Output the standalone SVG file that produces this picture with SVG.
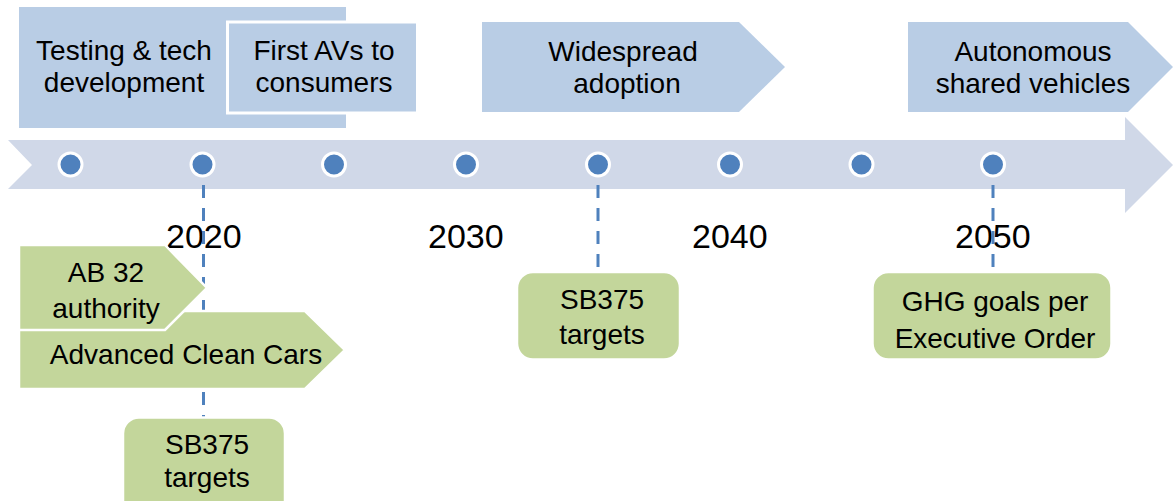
<svg xmlns="http://www.w3.org/2000/svg" width="1175" height="501" viewBox="0 0 1175 501">
<style>
.blue{fill:#b9cde5}
.green{fill:#c3d69b;stroke:#ffffff;stroke-width:2.5}
.lbl{font-family:"Liberation Sans",Arial,sans-serif;font-size:28px;fill:#000;text-anchor:middle}
.yr{font-family:"Liberation Sans",Arial,sans-serif;font-size:34px;fill:#000}
.dot{fill:#4f81bd;stroke:#ffffff;stroke-width:3}
.conn{stroke:#4f81bd;stroke-width:3;stroke-dasharray:13 10;fill:none}
</style>
<rect width="1175" height="501" fill="#ffffff"/>
<g id="testing">
<rect class="blue" x="19" y="7" width="327" height="121"/>
<text class="lbl" x="124" y="60">Testing &amp; tech</text>
<text class="lbl" x="124" y="92">development</text>
</g>
<g id="first-avs">
<rect class="blue" x="227.5" y="22" width="190" height="91" stroke="#ffffff" stroke-width="3"/>
<text class="lbl" x="324" y="60">First AVs to</text>
<text class="lbl" x="324" y="92">consumers</text>
</g>
<g id="widespread">
<polygon class="blue" points="482,22 739,22 785,67 739,112 482,112"/>
<text class="lbl" x="623" y="61">Widespread</text>
<text class="lbl" x="627" y="93">adoption</text>
</g>
<g id="autonomous">
<polygon class="blue" points="908,22 1128,22 1173,67 1128,112 908,112"/>
<text class="lbl" x="1033" y="61">Autonomous</text>
<text class="lbl" x="1033" y="93">shared vehicles</text>
</g>
<g id="timeline">
<polygon fill="#d0d8e8" points="8,140 1125,140 1125,117 1173,165 1125,213 1125,189 8,189 32,165"/>
<circle class="dot" cx="70.5" cy="164.5" r="11.5"/>
<circle class="dot" cx="202.5" cy="164.5" r="11.5"/>
<circle class="dot" cx="334" cy="164.5" r="11.5"/>
<circle class="dot" cx="466" cy="164.5" r="11.5"/>
<circle class="dot" cx="598" cy="164.5" r="11.5"/>
<circle class="dot" cx="730" cy="164.5" r="11.5"/>
<circle class="dot" cx="861.5" cy="164.5" r="11.5"/>
<circle class="dot" cx="993" cy="164.5" r="11.5"/>
</g>
<g id="years">
<text class="yr" x="166" y="248">2020</text>
<text class="yr" x="428" y="248">2030</text>
<text class="yr" x="692" y="248">2040</text>
<text class="yr" x="955" y="248">2050</text>
</g>
<g id="connectors">
<line class="conn" x1="203.5" y1="185" x2="203.5" y2="418"/>
<line class="conn" x1="598" y1="185" x2="598" y2="273"/>
<line class="conn" x1="993" y1="185" x2="993" y2="273"/>
</g>
<g id="advanced-clean-cars">
<polygon class="green" points="19,311 305,311 345,350 305,389 19,389"/>
<text class="lbl" x="186" y="364">Advanced Clean Cars</text>
</g>
<g id="ab32">
<polygon class="green" points="19,245 165,245 207,288 165,330 19,330"/>
<text class="lbl" x="106" y="282">AB 32</text>
<text class="lbl" x="106" y="318">authority</text>
</g>
<g id="sb375-2020">
<rect class="green" x="123" y="417.5" width="162" height="100" rx="16"/>
<text class="lbl" x="207" y="454">SB375</text>
<text class="lbl" x="207" y="487">targets</text>
</g>
<g id="sb375-2030">
<rect class="green" x="517" y="272" width="163" height="87.5" rx="16"/>
<text class="lbl" x="602" y="309">SB375</text>
<text class="lbl" x="602" y="344">targets</text>
</g>
<g id="ghg-goals">
<rect class="green" x="872.5" y="272" width="239" height="87.5" rx="16"/>
<text class="lbl" x="995" y="311">GHG goals per</text>
<text class="lbl" x="995" y="348">Executive Order</text>
</g>
</svg>
